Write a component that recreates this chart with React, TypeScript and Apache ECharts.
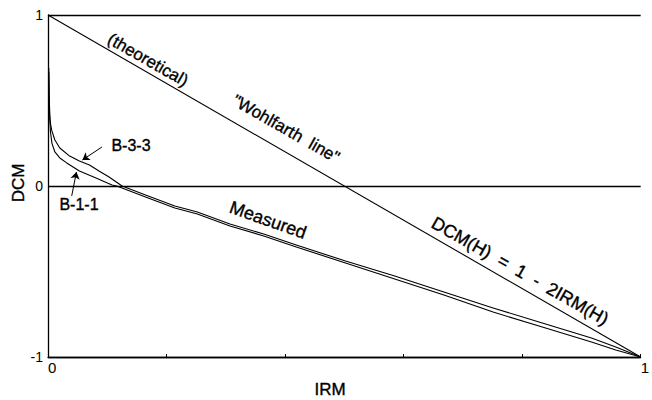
import React, { useEffect, useRef } from "react";
import * as echarts from "echarts";

// x-axis: IRM (normalized), y-axis: DCM (normalized)
const xTicks = [0, 0.2, 0.4, 0.6, 0.8, 1];
const yTicks = [-1, 0, 1];

const irmTheory = [0, 1];
const dcmTheory = [1, -1];

const irmB33 = [0.0013, 0.002, 0.003, 0.0045, 0.0066, 0.0116, 0.0199, 0.0365, 0.053, 0.07, 0.086, 0.103, 0.125, 0.169, 0.214, 0.252, 0.307, 0.364, 0.419, 0.502, 0.585, 0.668, 0.751, 0.834, 0.917, 0.958, 1.0];
const dcmB33 = [0.69, 0.532, 0.415, 0.357, 0.322, 0.269, 0.222, 0.175, 0.146, 0.123, 0.088, 0.053, 0, -0.058, -0.117, -0.152, -0.222, -0.281, -0.345, -0.439, -0.526, -0.62, -0.713, -0.801, -0.889, -0.942, -1.0];

const irmB11 = [0.0013, 0.002, 0.003, 0.0042, 0.0066, 0.0116, 0.0199, 0.0316, 0.053, 0.081, 0.108, 0.116, 0.169, 0.214, 0.252, 0.307, 0.364, 0.419, 0.502, 0.585, 0.668, 0.751, 0.834, 0.917, 0.958, 1.0];
const dcmB11 = [0.667, 0.503, 0.386, 0.316, 0.251, 0.199, 0.164, 0.135, 0.088, 0.047, 0.006, 0, -0.07, -0.129, -0.164, -0.234, -0.292, -0.357, -0.45, -0.544, -0.637, -0.737, -0.825, -0.912, -0.959, -1.0];

// label arrows (data coords): [tailX, tailY, headX, headY]
const arrowB33 = [0.091, 0.228, 0.058, 0.152];
const arrowB11 = [0.04, -0.058, 0.048, 0.082];

const zip = (xs: number[], ys: number[]) => xs.map((x, i) => [x, ys[i]]);

const FONT = "'Liberation Sans', Arial, Helvetica, sans-serif";
const INK = "#000";

export default function App() {
  const ref = useRef<HTMLDivElement>(null);
  useEffect(() => {
    document.body.style.margin = "0";
    const chart = echarts.init(ref.current!, null, { renderer: "svg" });
    const theoryAngle = -Math.atan(342 / 602);
    const arrowLine = (a: number[]) => [
      { coord: [a[0], a[1]], symbol: "none" },
      { coord: [a[2], a[3]], symbol: "arrow" },
    ];
    const txt = (text: string, x: number, y: number, size: number, rotation = 0) => ({
      type: "text",
      x,
      y,
      rotation,
      silent: true,
      style: {
        text,
        font: `${size}px ${FONT}`,
        fill: INK,
        stroke: INK,
        lineWidth: 0.35,
        align: "center",
        verticalAlign: "middle",
      },
    });
    chart.setOption({
      animation: false,
      backgroundColor: "#fff",
      grid: { left: 48, right: 2, top: 15, bottom: 43 },
      xAxis: {
        type: "value",
        min: xTicks[0],
        max: xTicks[xTicks.length - 1],
        interval: 0.2,
        axisLine: { show: true, onZero: false, lineStyle: { color: INK, width: 1.3 } },
        axisTick: { show: true, inside: true, length: 3, lineStyle: { color: INK } },
        splitLine: { show: false },
        axisLabel: {
          color: INK,
          fontFamily: FONT,
          fontSize: 15,
          margin: 3,
          align: "left",
          formatter: (v: number) => (v === 0 || v === 1 ? String(v) : ""),
        },
      },
      yAxis: {
        type: "value",
        min: yTicks[0],
        max: yTicks[yTicks.length - 1],
        interval: 1,
        axisLine: { show: true, onZero: false, lineStyle: { color: INK, width: 1.3 } },
        axisTick: { show: false },
        splitLine: { show: true, lineStyle: { color: INK, width: 1.3 } },
        axisLabel: { color: INK, fontFamily: FONT, fontSize: 14, margin: 5 },
      },
      series: [
        {
          type: "line",
          data: zip(irmTheory, dcmTheory),
          symbol: "none",
          lineStyle: { color: INK, width: 1.1 },
          silent: true,
        },
        {
          name: "B-3-3",
          type: "line",
          data: zip(irmB33, dcmB33),
          symbol: "none",
          smooth: false,
          lineStyle: { color: INK, width: 1.1, join: "round" },
          silent: true,
          markLine: {
            silent: true,
            symbolSize: 7,
            label: { show: false },
            lineStyle: { color: INK, width: 1, type: "solid" },
            data: [arrowLine(arrowB33), arrowLine(arrowB11)],
          },
        },
        {
          name: "B-1-1",
          type: "line",
          data: zip(irmB11, dcmB11),
          symbol: "none",
          smooth: false,
          lineStyle: { color: INK, width: 1.1, join: "round" },
          silent: true,
        },
      ],
      graphic: [
        txt("DCM", 18, 183, 17, Math.PI / 2),
        txt("IRM", 330, 389, 17),
        txt("(theoretical)", 148, 60, 17, theoryAngle),
        txt("\"Wohlfarth  line\"", 286, 129, 17, theoryAngle),
        txt("DCM(H)  =  1  -  2IRM(H)", 520, 271, 18, theoryAngle),
        txt("Measured", 268, 220, 18, -0.34),
        txt("B-3-3", 131, 145, 16),
        txt("B-1-1", 79, 204, 16),
      ],
    });
    return () => chart.dispose();
  }, []);
  return <div ref={ref} style={{ width: 652, height: 400 }} />;
}
